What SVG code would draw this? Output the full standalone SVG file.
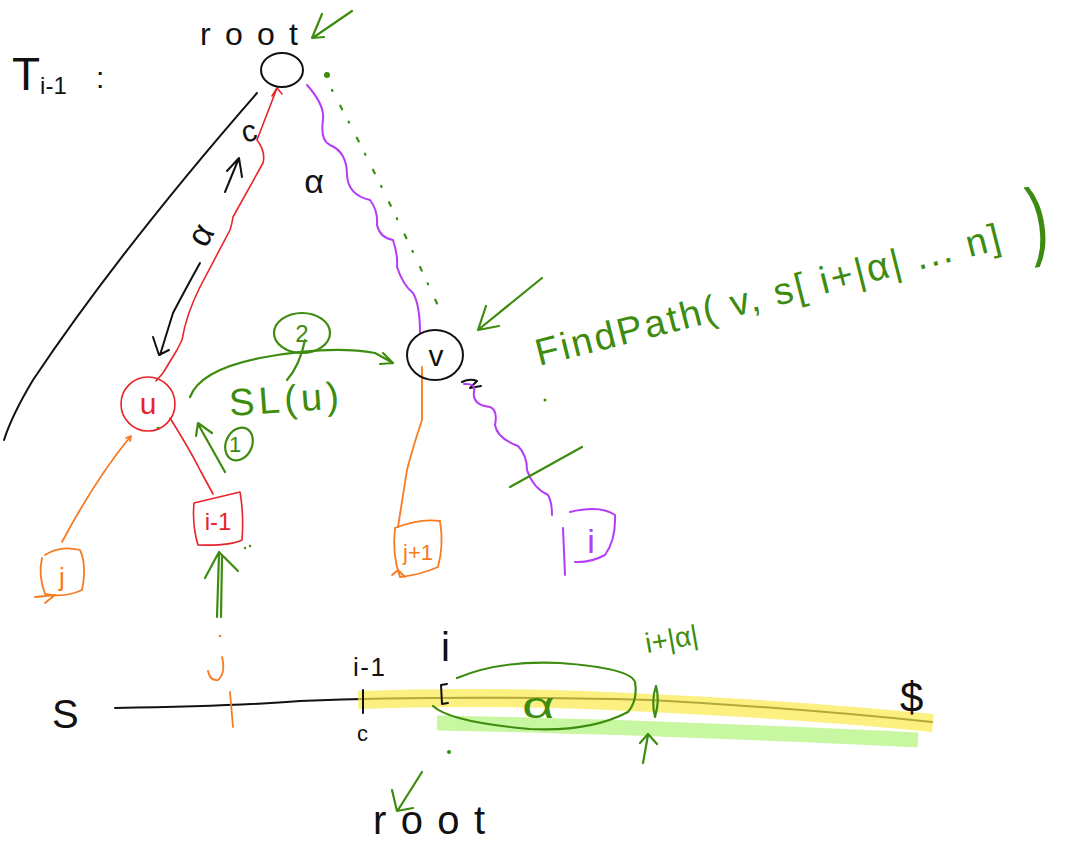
<svg xmlns="http://www.w3.org/2000/svg" width="1071" height="843" viewBox="0 0 1071 843">
<style>
.s{fill:none;stroke-width:2;stroke-linecap:round;stroke-linejoin:round}
.k{stroke:#111}
.r{stroke:#e8232b;stroke-width:1.6}
.o{stroke:#f77b22;stroke-width:1.8}
.p{stroke:#b43cf5;stroke-width:2}
.g{stroke:#3d8c0f;stroke-width:2.2}
text{font-family:"Liberation Sans","DejaVu Sans",sans-serif}
.tk{fill:#111}
.tr{fill:#e8232b}
.to{fill:#f77b22}
.tp{fill:#b43cf5}
.tg{fill:#3d8c0f}
</style>
<rect width="1071" height="843" fill="#fff"/>

<!-- string S with highlights -->
<g id="string">
  <path class="s k" d="M115,708 Q240,706 300,701 Q450,695 650,700 Q800,708 932,722" stroke-width="1.8"/>
  <path d="M358,700 Q500,695 650,703 Q800,710 933,723" fill="none" stroke="#f9e94a" stroke-opacity="0.7" stroke-width="18"/>
  <path d="M437,723 Q650,727 918,740" fill="none" stroke="#c8f7a2" stroke-width="15"/>
  <text class="tk" x="52" y="728" font-size="40">S</text>
  <path class="s o" d="M230,692 L233,727"/>
  <path class="s o" d="M222,657 Q226,673 218,680 Q210,681 208,671"/>
  <circle cx="220" cy="636" r="1.3" fill="#f77b22"/>
  <path class="s k" d="M363,690 L363,713"/>
  <text class="tk" x="353" y="676" font-size="26" textLength="32" lengthAdjust="spacing">i-1</text>
  <text class="tk" x="357" y="741" font-size="22">c</text>
  <text class="tk" x="441" y="661" font-size="40">i</text>
  <path class="s k" d="M447,684 L441,685 L442,704 L448,703"/>
  <path class="s g" d="M457,678 Q500,660 560,663 Q630,668 635,682 Q638,700 628,712 Q590,732 530,729 Q450,722 433,706"/>
  <text class="tg" font-size="42" transform="translate(522 718) scale(1.35 0.9)">α</text>
  <path class="s g" d="M656,686 Q660,700 655,717 Q651,701 656,686" stroke-width="2.6"/>
  <text class="tg" x="647" y="653" font-size="28" transform="rotate(-10 647 653)">i+|α|</text>
  <path class="s g" d="M643,763 L648,735 M640,743 L648,734 L657,744"/>
  <text class="tk" x="900" y="712" font-size="42">$</text>
  <circle cx="449" cy="752" r="2" fill="#3d8c0f"/>
  <path class="s g" d="M422,772 L398,810 M392,790 L397,811 L413,808"/>
  <text class="tk" x="373" y="834" font-size="40" textLength="112" lengthAdjust="spacing">root</text>
</g>

<!-- title -->
<g id="title">
  <text class="tk" x="12" y="90" font-size="46">T<tspan font-size="24" dy="4">i-1</tspan></text>
  <text class="tk" x="96" y="88" font-size="30">:</text>
</g>

<!-- connectors -->
<g id="connectors">
  <path class="s k" d="M257,93 Q120,250 33,380 Q12,415 4,440"/>
  <path class="s r" d="M277,88 L257,140 Q266,152 263,163 L233,217 Q232,224 230,230 L200,287 Q186,315 182,340 L177,350 L163,373 L156,381"/>
  <path class="s r" d="M272,96 L277,88 L282,94"/>
  <path class="s p" d="M307,85 Q325,105 323,120 Q320,140 330,145 Q347,152 347,175 Q348,195 370,200 Q378,210 377,225 Q380,238 393,240 Q398,255 397,267 Q403,285 413,293 Q420,305 420,333"/>
  <circle cx="327" cy="75" r="3" fill="#3d8c0f"/>
  <path d="M332,90 Q385,190 440,310" fill="none" stroke="#3d8c0f" stroke-width="2.2" stroke-linecap="round" stroke-dasharray="1 17 4 14"/>
  <path class="s r" d="M170,418 Q190,450 200,470 L213,494"/>
  <path class="s o" d="M62,542 Q95,480 130,437 M126,438 L131,436 L130,441"/>
  <path class="s o" d="M422,367 L422,420 Q412,450 407,470 L398,527"/>
  <path class="s k" d="M462,382 Q470,378 477,381 L470,388 L481,386"/>
  <path class="s p" d="M464,384 Q476,383 474,392 Q472,405 490,407 Q498,410 495,425 Q497,438 518,446 Q527,455 527,470 Q533,488 548,495 Q552,502 552,515"/>
  <path class="s g" d="M510,487 L582,447"/>
  <path class="s g" d="M190,397 Q200,370 260,358 Q330,345 375,353 L393,363 M383,353 L393,363 L380,364"/>
  <path class="s g" d="M225,472 L198,424 M196,436 L198,423 L212,433"/>
  <path class="s g" d="M217,617 L219,553 M221,617 L222,556 M205,578 L219,552 L238,571"/>
  <circle cx="245" cy="548" r="1.2" fill="#3d8c0f"/>
  <circle cx="250" cy="546" r="1.2" fill="#3d8c0f"/>
  <circle cx="158" cy="428" r="1.3" fill="#3d8c0f"/>
  <circle cx="545" cy="400" r="1.5" fill="#3d8c0f"/>
</g>

<!-- edge labels -->
<g id="edge-labels">
  <text class="tk" x="241" y="141" font-size="30" transform="rotate(-15 250 130)">c</text>
  <path class="s k" d="M225,192 L239,158 M227,171 L239,158 L242,177"/>
  <text class="tk" x="201" y="246" font-size="34" text-anchor="middle" transform="rotate(-60 201 235)">α</text>
  <path class="s k" d="M200,263 Q185,290 173,313 L160,355 M153,337 L159,355 L169,350"/>
  <text class="tk" x="314" y="193" font-size="34" text-anchor="middle">α</text>
  <text class="tg" x="230" y="416" font-size="38" textLength="110" lengthAdjust="spacing" transform="rotate(-4 230 416)">SL(u)</text>
  <g id="step2">
    <ellipse class="s g" cx="302" cy="333" rx="28" ry="20"/>
    <path class="s g" d="M305,340 Q300,365 287,380"/>
    <text class="tg" x="302" y="342" font-size="24" text-anchor="middle">2</text>
  </g>
  <g id="step1">
    <ellipse class="s g" cx="239" cy="444" rx="13" ry="17" transform="rotate(25 239 444)"/>
    <text class="tg" x="235" y="452" font-size="22" text-anchor="middle">1</text>
  </g>
  <path class="s g" d="M352,11 L314,37 M322,14 L312,38 L324,37"/>
  <text class="tk" x="200" y="45" font-size="32" textLength="98" lengthAdjust="spacing">root</text>
  <path class="s g" d="M542,278 L478,330 M486,306 L478,330 L499,326"/>
  <text class="tg" x="539" y="366" font-size="38" textLength="478" lengthAdjust="spacing" transform="rotate(-14.2 539 366)">FindPath( v, s[ i+|α| ... n]</text>
  <text class="tg" font-size="58" transform="translate(1032 250) rotate(-8) scale(1 1.5)">)</text>
</g>

<!-- nodes -->
<g id="node-root">
  <ellipse class="s k" cx="282" cy="70" rx="21" ry="17"/>
</g>
<g id="node-u">
  <ellipse class="s r" cx="148" cy="404" rx="27" ry="27"/>
  <text class="tr" x="148" y="414" font-size="30" text-anchor="middle">u</text>
</g>
<g id="node-v">
  <ellipse class="s k" cx="435" cy="355" rx="28" ry="25"/>
  <text class="tk" x="436" y="366" font-size="30" text-anchor="middle">v</text>
</g>
<g id="leaf-j">
  <path class="s o" d="M45,555 Q60,545 80,550 Q87,565 82,590 Q65,598 45,594 Q38,575 42,558 M35,597 L55,595 L45,603"/>
  <text class="to" x="62" y="586" font-size="26" text-anchor="middle">j</text>
</g>
<g id="leaf-i-1">
  <path class="s r" d="M194,503 L240,492 Q244,515 242,540 Q230,546 198,545 Q192,525 194,503"/>
  <text class="tr" x="218" y="530" font-size="24" text-anchor="middle">i-1</text>
</g>
<g id="leaf-j1">
  <path class="s o" d="M395,528 Q420,518 440,521 Q444,545 438,567 Q420,575 400,577 Q392,555 395,528 M392,575 L398,570 L405,577"/>
  <text class="to" x="418" y="560" font-size="22" text-anchor="middle">j+1</text>
</g>
<g id="leaf-i">
  <path class="s p" d="M563,528 L565,575 M570,512 Q600,505 615,515 Q616,540 605,555 Q590,563 575,562"/>
  <text class="tp" x="591" y="553" font-size="34" text-anchor="middle">i</text>
</g>
</svg>
